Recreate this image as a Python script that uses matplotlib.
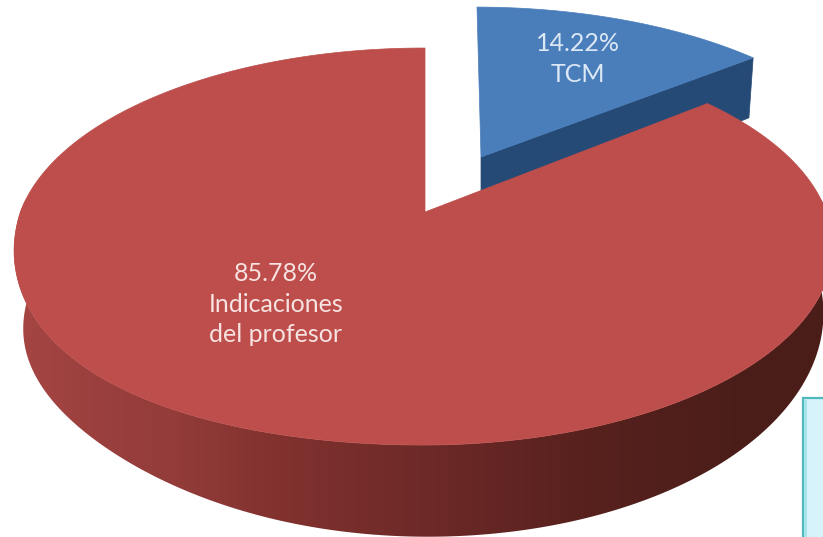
import numpy as np
import matplotlib
matplotlib.use("Agg")
import matplotlib.pyplot as plt
from matplotlib.colors import LinearSegmentedColormap
from matplotlib.patches import Polygon, Rectangle

categories = ["TCM", "Indicaciones\ndel profesor"]
shares = [14.22, 85.78]

W, H = 823, 537
plt.rcParams["font.family"] = ["Lato", "DejaVu Sans"]
fig = plt.figure(figsize=(W / 100, H / 100), dpi=100)
ax = fig.add_axes([0, 0, 1, 1])


def project(theta, apex, R, S, k=0.174, m=0.004, lean=0.0):
    """theta measured clockwise from the top of the pie; perspective view."""
    x, y = np.sin(theta), np.cos(theta)
    w = 1 + k * y + m * x
    return apex[0] + R * x / w + lean * y, apex[1] - S * y / w


def lower_left(theta, power):
    """Weight that is only non-zero in the front-left quadrant of the pie."""
    x, y = np.sin(theta), np.cos(theta)
    return np.clip(-x, 0, None) ** power * np.clip(-y, 0, None)


sweep_tcm = 2 * np.pi * shares[0] / sum(shares)

# ---- TCM slice (pulled away, behind) ----
b_top = dict(apex=(481, 157), R=392, S=176, lean=-4)
b_bot = dict(apex=(481, 226), R=386, S=192, lean=-4)
t_b = np.linspace(0, sweep_tcm, 80)
tx, ty = project(t_b, **b_top)
bx, by = project(t_b, **b_bot)
ax.fill([481, tx[-1], bx[-1], 481], [157, ty[-1], by[-1], 226],
        color="#264A76", lw=0.5, zorder=1)
ax.fill(np.r_[481, tx], np.r_[157, ty], color="#4A7EBB", lw=0.5, zorder=2)

# ---- Indicaciones slice ----
r_top = dict(apex=(425, 212), R=403, S=192.5)
r_bot = dict(apex=(425, 274), R=390, S=217, m=-0.006)
t_r = np.linspace(sweep_tcm, 2 * np.pi, 700)
rx, ry = project(t_r, **r_top)
ry = ry + 24 * lower_left(t_r, 2)
lx, ly = project(t_r, **r_bot)
lx = lx - 45 * lower_left(t_r, 6)
ly = ly + 12 * lower_left(t_r, 6)

side_cmap = LinearSegmentedColormap.from_list(
    "side",
    [(0.00, "#A64644"), (0.10, "#9B403E"), (0.20, "#933C3A"), (0.32, "#82322F"),
     (0.50, "#6E2A28"), (0.70, "#58211E"), (0.88, "#4C1E1A"), (1.00, "#4A1D19")],
)
front = np.cos(t_r) < 0.08
side_outline = Polygon(
    np.c_[np.r_[rx[front], lx[front][::-1]], np.r_[ry[front], ly[front][::-1]]],
    closed=True, transform=ax.transData, facecolor="none", edgecolor="none",
)
ax.add_patch(side_outline)
grad = ax.imshow(np.linspace(0, 1, 512)[None, :], cmap=side_cmap, aspect="auto",
                 extent=(10, 830, H, 200), zorder=3, interpolation="bilinear")
grad.set_clip_path(side_outline)
ax.fill(np.r_[425, rx], np.r_[212, ry], color="#BD4E4B", lw=0.5, zorder=4)

# ---- labels ----
ax.text(578, 59, f"{shares[0]:.2f}%\n{categories[0]}", color="#DCE8F5",
        fontsize=18, ha="center", va="center", linespacing=1.42, zorder=6)
ax.text(276, 304, f"{shares[1]:.2f}%\n{categories[1]}", color="#F7E3E1",
        fontsize=18, ha="center", va="center", linespacing=1.42, zorder=6)

# ---- cropped text box, lower right ----
ax.add_patch(Rectangle((803, 398), 30, 150, facecolor="#D6F2FB",
                       edgecolor="#4FB9BC", lw=1.6, zorder=7))
ax.add_patch(Rectangle((804, 399.5), 3.5, 150, facecolor="#A5E6EC",
                       edgecolor="none", zorder=8))

ax.set_xlim(0, W)
ax.set_ylim(H, 0)
ax.axis("off")
fig.savefig("out.png", dpi=100, facecolor="white")
